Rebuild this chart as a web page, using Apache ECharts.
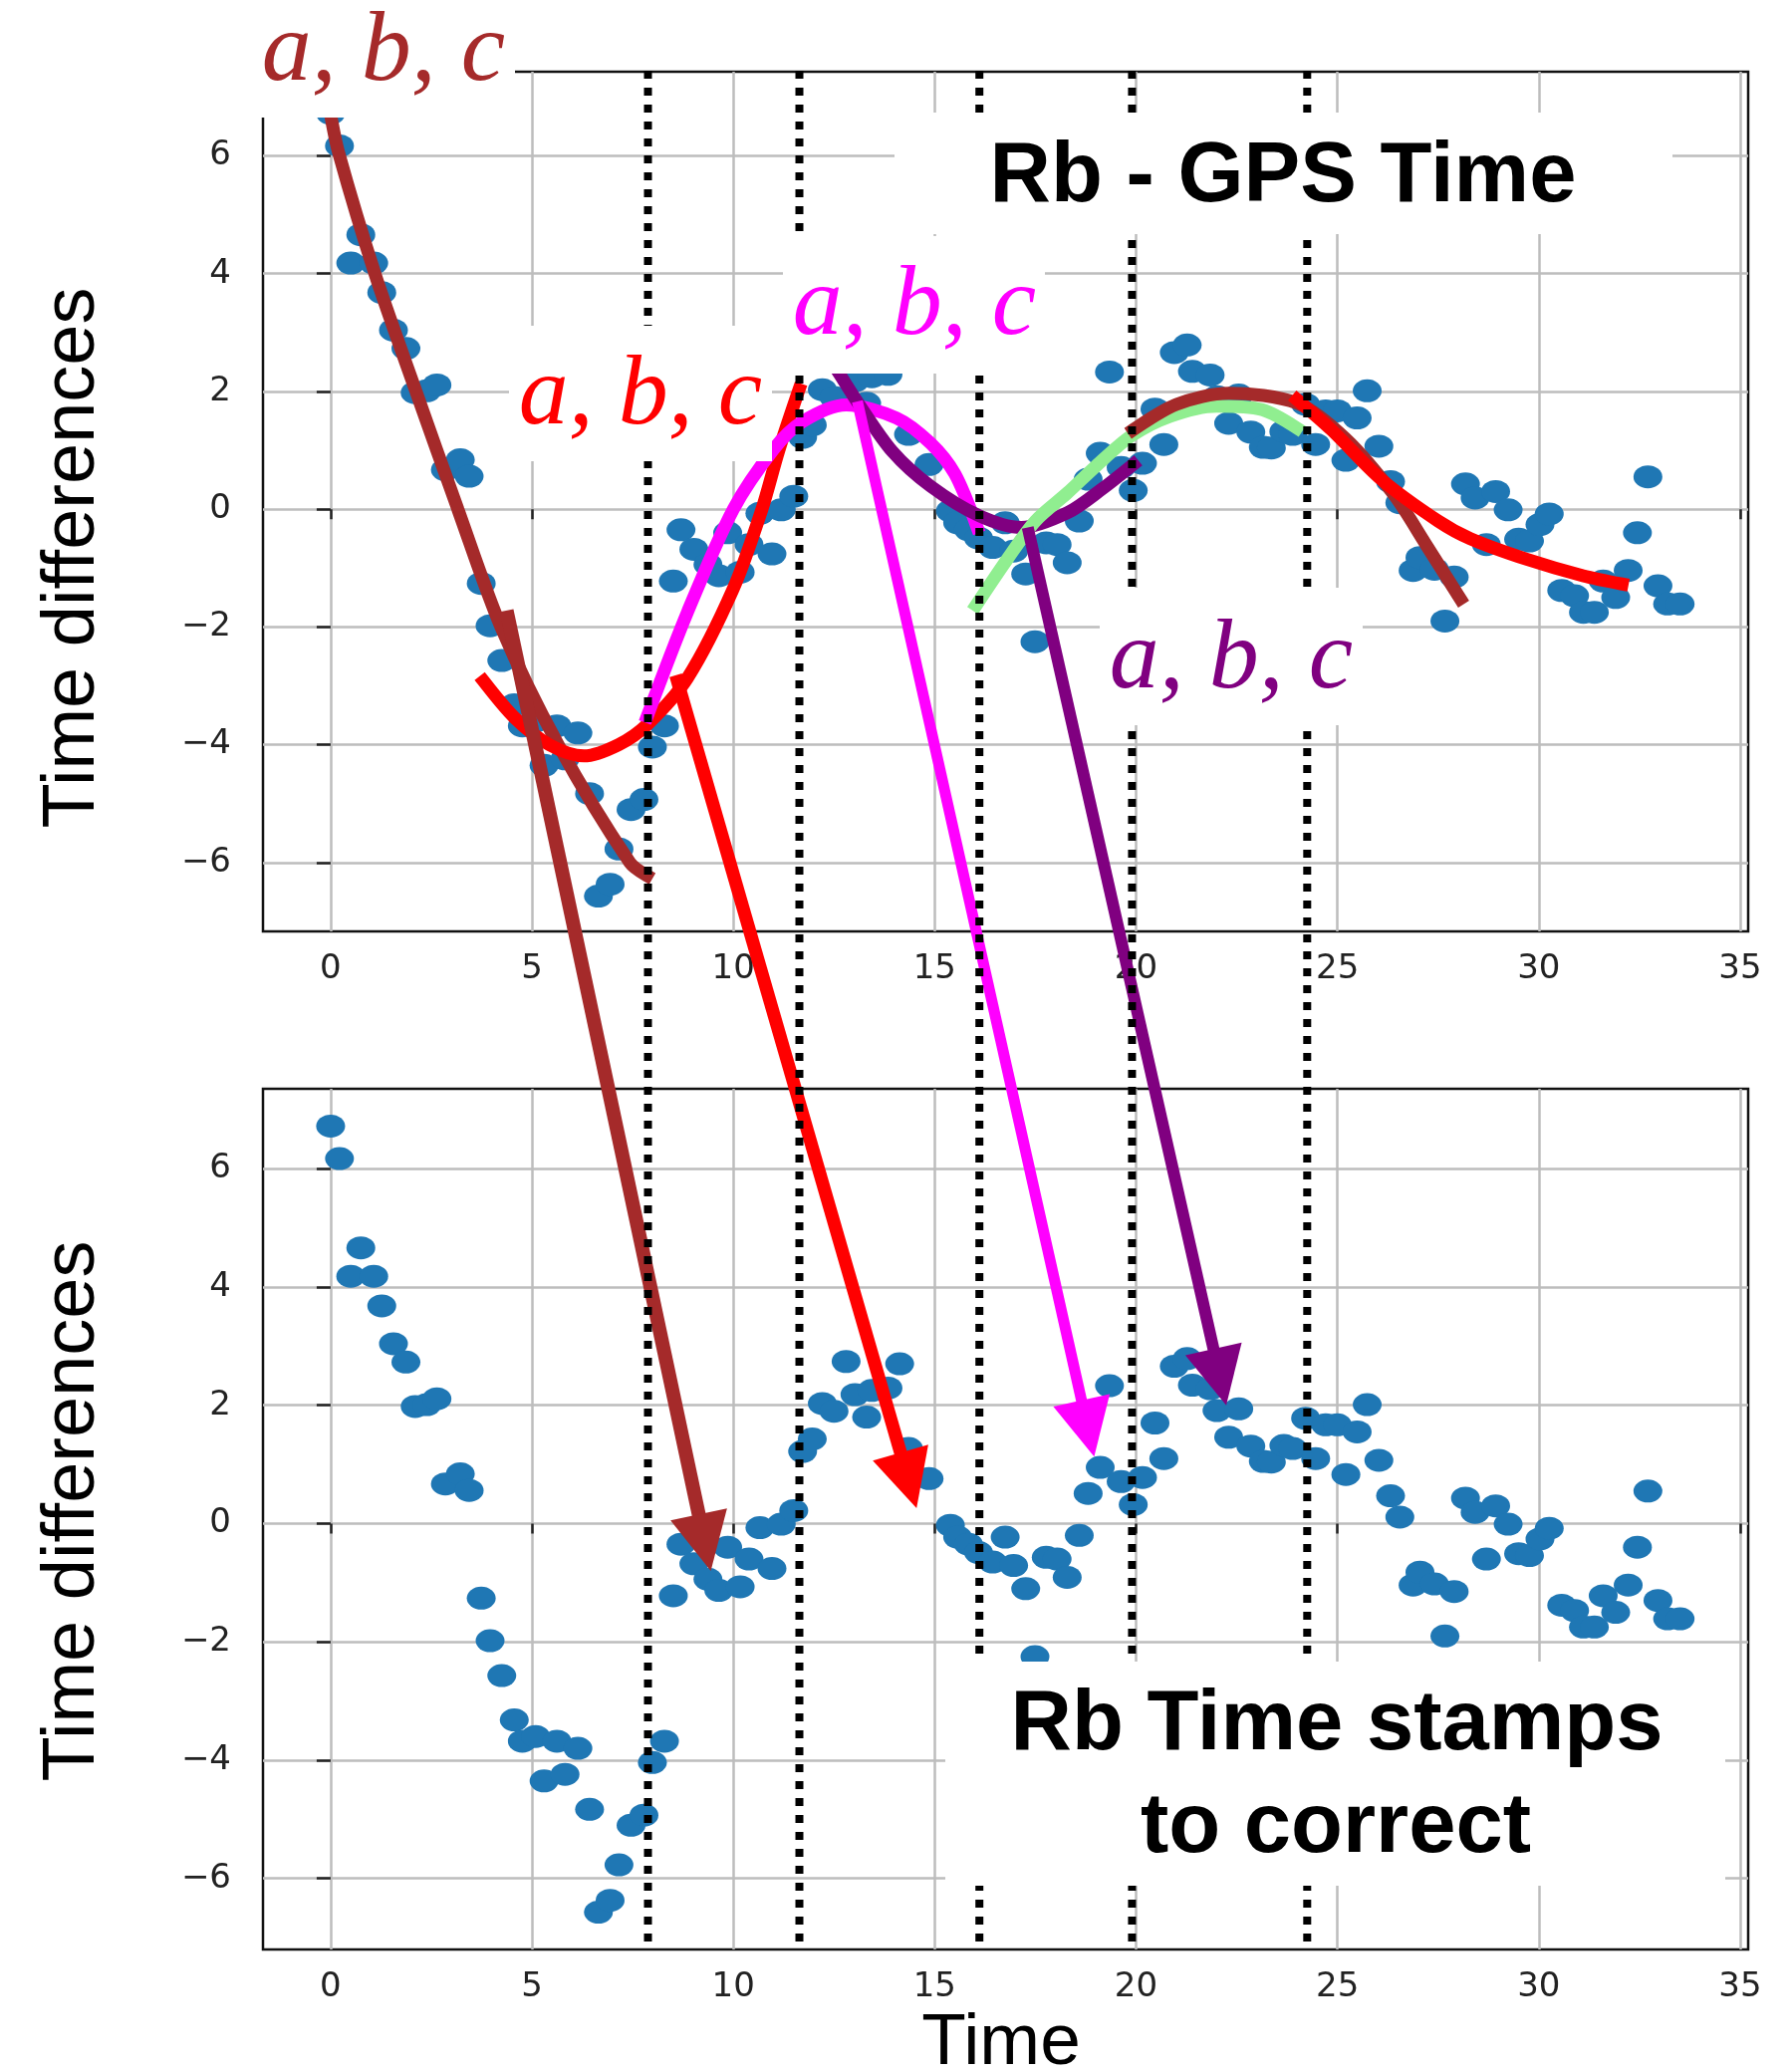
<!DOCTYPE html>
<html><head><meta charset="utf-8">
<script src="https://cdn.jsdelivr.net/npm/echarts@6/dist/echarts.min.js"></script>
<style>html,body{margin:0;padding:0;background:#fff}#c{width:1799px;height:2080px}</style>
</head><body><div id="c"></div>
<script>
// ---------- data ----------
const timeX = [0.00,0.22,0.50,0.75,1.07,1.27,1.56,1.87,2.10,2.39,
2.64,2.85,3.22,3.44,3.74,3.96,4.25,4.56,4.76,5.09,
5.30,5.62,5.82,6.14,6.43,6.65,6.94,7.16,7.46,7.78,
7.99,8.29,8.51,8.70,9.02,9.37,9.64,9.86,10.17,10.39,
10.66,10.96,11.19,11.50,11.72,11.96,12.21,12.50,12.80,13.02,
13.31,13.44,13.84,14.13,14.35,14.86,15.39,15.57,15.84,16.09,
16.44,16.75,16.96,17.26,17.49,17.77,18.04,18.29,18.59,18.81,
19.11,19.34,19.63,19.93,20.16,20.47,20.69,20.95,21.27,21.40,
21.84,22.01,22.30,22.55,22.85,23.16,23.36,23.67,23.89,24.21,
24.46,24.71,25.00,25.21,25.49,25.74,26.03,26.32,26.55,26.88,
27.05,27.41,27.67,27.90,28.18,28.42,28.70,28.93,29.24,29.50,
29.77,30.03,30.26,30.57,30.89,31.11,31.38,31.60,31.91,32.22,
32.45,32.71,32.96,33.20,33.51];
const timeDiff = [6.72,6.17,4.18,4.66,4.18,3.68,3.04,2.73,1.98,2.01,
2.11,0.67,0.84,0.56,-1.26,-1.98,-2.57,-3.32,-3.68,-3.60,
-4.35,-3.68,-4.24,-3.80,-4.83,-6.57,-6.37,-5.77,-5.10,-4.93,
-4.04,-3.68,-1.22,-0.35,-0.68,-0.94,-1.13,-0.40,-1.07,-0.60,
-0.07,-0.76,-0.01,0.22,1.22,1.43,2.03,1.90,2.74,2.18,
1.80,2.25,2.29,2.70,1.27,0.76,-0.03,-0.23,-0.35,-0.49,
-0.65,-0.23,-0.71,-1.10,-2.25,-0.57,-0.60,-0.91,-0.20,0.51,
0.95,2.33,0.71,0.32,0.78,1.70,1.10,2.66,2.79,2.34,
2.28,1.91,1.46,1.94,1.31,1.05,1.04,1.32,1.27,1.78,
1.10,1.67,1.67,0.83,1.55,2.01,1.07,0.47,0.11,-1.04,
-0.82,-1.02,-1.90,-1.15,0.43,0.19,-0.60,0.30,-0.01,-0.51,
-0.54,-0.26,-0.08,-1.38,-1.47,-1.75,-1.75,-1.22,-1.50,-1.04,
-0.40,0.55,-1.30,-1.61,-1.61];

// fitted curves (a, b, c)
const brownFitA = [[0,6.7],[0.2,6.05],[1.1,4.0],[2.12,2.0],[3.16,0.0],[4.23,-2.0],[5.65,-4.0],[7.43,-6.0],[7.85,-6.22]];
const redFitA = [[3.8,-2.92],[4.58,-3.55],[5.43,-4.0],[6.29,-4.19],[7.15,-4.0],[7.86,-3.66],[8.86,-2.87],[10.0,-1.35],[10.71,0.0],[11.13,1.0],[11.63,2.03]];
const magentaFit = [[7.86,-3.52],[8.86,-1.75],[10.0,0.0],[11.0,1.02],[11.7,1.48],[12.8,1.77],[14.05,1.55],[14.9,1.12],[15.5,0.6],[16.05,-0.3]];
const purpleFit = [[11.7,3.3],[12.45,2.5],[13.1,1.8],[13.95,0.98],[14.9,0.39],[16.1,-0.11],[17.15,-0.31],[18.3,-0.06],[19.15,0.34],[19.93,0.76]];
const greenFit = [[16.03,-1.63],[16.8,-0.85],[17.5,-0.2],[18.3,0.28],[19.0,0.73],[19.87,1.24],[20.85,1.58],[22.0,1.75],[23.13,1.69],[23.99,1.38]];
const brownFitB = [[19.93,1.35],[21.0,1.78],[22.3,1.97],[24.0,1.8],[25.2,1.2],[26.4,0.25],[27.2,-0.6],[28.05,-1.52]];
const redFitB = [[24.0,1.86],[24.85,1.35],[26.1,0.5],[27.5,-0.2],[28.3,-0.5],[29.7,-0.85],[31.1,-1.13],[32.07,-1.27]];

// segment boundaries (dotted lines) and correction arrows (top point -> bottom point)
const segmentBounds = [7.88, 11.64, 16.11, 19.9, 24.25];
const arrowList = [
  {color:'#a52a2a', from:[4.37,-1.72], to:[9.44,-0.80], w:14},
  {color:'#ff0000', from:[8.57,-2.82], to:[14.55,0.26], w:13},
  {color:'#ff00ff', from:[13.08,1.83], to:[18.96,1.13], w:11},
  {color:'#800080', from:[17.31,-0.31], to:[22.24,2.0], w:12}
];
const xTicks = [0,5,10,15,20,25,30,35];
const yTicks = [-6,-4,-2,0,2,4,6];

// ---------- chart ----------
const fmt = v => (v < 0 ? '\u2212' + Math.abs(v) : String(v));
const pts = timeX.map((x,i) => [x, timeDiff[i]]);
const X_MIN = -1.68, X_MAX = 35.2;
const TOP_Y = [-7.17, 7.43], BOT_Y = [-7.2, 7.35];

function xAxisCfg(gi){
  return {type:'value', gridIndex:gi, min:X_MIN, max:X_MAX,
    axisLine:{show:false},
    axisTick:{show:true, length:10, customValues:xTicks, lineStyle:{color:'#222', width:2.5}},
    axisLabel:{customValues:xTicks, formatter:fmt, color:'#222', fontSize:34, fontFamily:'DejaVu Sans', margin:21},
    splitLine:{show:true, lineStyle:{color:'#bdbdbd', width:2.5}}};
}
function yAxisCfg(gi, r){
  return {type:'value', gridIndex:gi, min:r[0], max:r[1],
    axisLine:{show:false},
    axisTick:{show:true, length:14, customValues:yTicks, lineStyle:{color:'#222', width:2.5}},
    axisLabel:{customValues:yTicks, formatter:fmt, color:'#222', fontSize:34, fontFamily:'DejaVu Sans', margin:32},
    splitLine:{show:true, lineStyle:{color:'#bdbdbd', width:2.5}}};
}
function fitLine(data, color, z){
  return {type:'line', xAxisIndex:0, yAxisIndex:0, data:data, smooth:0.3, showSymbol:false, symbol:'none',
    lineStyle:{color:color, width:13, cap:'square'}, z:z, silent:true};
}
const option = {
  animation:false,
  backgroundColor:'#fff',
  grid:[
    {left:264, top:72, width:1491, height:863, show:true, borderColor:'#111', borderWidth:2.5, backgroundColor:'transparent'},
    {left:264, top:1093, width:1491, height:864, show:true, borderColor:'#111', borderWidth:2.5, backgroundColor:'transparent'}
  ],
  xAxis:[xAxisCfg(0), xAxisCfg(1)],
  yAxis:[yAxisCfg(0, TOP_Y), yAxisCfg(1, BOT_Y)],
  series:[
    {type:'scatter', xAxisIndex:0, yAxisIndex:0, data:pts, symbolSize:[29,23], itemStyle:{color:'#1f77b4', opacity:1}, z:2, silent:true},
    {type:'scatter', xAxisIndex:1, yAxisIndex:1, data:pts, symbolSize:[29,23], itemStyle:{color:'#1f77b4', opacity:1}, z:2, silent:true},
    fitLine(brownFitA, '#a52a2a', 3),
    fitLine(redFitA, '#ff0000', 3),
    fitLine(magentaFit, '#ff00ff', 4),
    fitLine(purpleFit, '#800080', 4),
    fitLine(greenFit, '#90ee90', 5),
    fitLine(brownFitB, '#a52a2a', 5),
    fitLine(redFitB, '#ff0000', 6)
  ]
};
const chart = echarts.init(document.getElementById('c'), null, {renderer:'canvas'});
chart.setOption(option);

// ---------- overlays computed through the axes ----------
const g = [];
const HEAD_LEN = 58, HEAD_HALF = 29;
arrowList.forEach(a => {
  const p0 = chart.convertToPixel({gridIndex:0}, a.from);
  const p1 = chart.convertToPixel({gridIndex:1}, a.to);
  const dx = p1[0]-p0[0], dy = p1[1]-p0[1], L = Math.hypot(dx, dy);
  const ux = dx/L, uy = dy/L;
  const bx = p1[0]-ux*HEAD_LEN, by = p1[1]-uy*HEAD_LEN;
  g.push({type:'line', z:10, silent:true, shape:{x1:p0[0], y1:p0[1], x2:bx+ux*3, y2:by+uy*3},
    style:{stroke:a.color, lineWidth:a.w}});
  g.push({type:'polygon', z:10, silent:true, shape:{points:[[p1[0],p1[1]],[bx-uy*HEAD_HALF, by+ux*HEAD_HALF],[bx+uy*HEAD_HALF, by-ux*HEAD_HALF]]},
    style:{fill:a.color}});
});
segmentBounds.forEach(x => {
  const px = chart.convertToPixel({gridIndex:0}, [x, 0])[0];
  const y1 = chart.convertToPixel({gridIndex:0}, [x, TOP_Y[1]])[1] - 1;
  const y2 = chart.convertToPixel({gridIndex:1}, [x, BOT_Y[0]])[1] - 5;
  g.push({type:'line', z:20, silent:true, shape:{x1:px, y1:y1, x2:px, y2:y2},
    style:{stroke:'#000', lineWidth:8, lineDash:[8, 9]}});
});
// white label boxes
const boxes = [
  [240, 0, 277, 118],
  [511, 327, 264, 136],
  [786, 237, 263, 138],
  [898, 113, 781, 122],
  [1104, 590, 264, 138],
  [949, 1668, 783, 225]
];
boxes.forEach(b => g.push({type:'rect', z:30, silent:true, shape:{x:b[0], y:b[1], width:b[2], height:b[3]}, style:{fill:'#fff'}}));
// texts
function txt(s, x, y, font, color, rot){
  return {type:'text', z:40, silent:true, x:x, y:y, rotation:rot||0,
    style:{text:s, font:font, fill:color, textAlign:'center', textVerticalAlign:'middle'}};
}
const serif = 'italic 100px "Liberation Serif", "DejaVu Serif", serif';
g.push(txt('a, b, c', 385, 54, serif, '#a52a2a'));
g.push(txt('a, b, c', 643, 399, serif, '#ff0000'));
g.push(txt('a, b, c', 918, 309, serif, '#ff00ff'));
g.push(txt('a, b, c', 1236, 664, serif, '#800080'));
const bold = 'bold 85px "Liberation Sans", Arial, sans-serif';
g.push(txt('Rb - GPS Time', 1288, 179, bold, '#000'));
g.push(txt('Rb Time stamps', 1342, 1733, bold, '#000'));
g.push(txt('to correct', 1341, 1836, bold, '#000'));
const lab = '74px "Liberation Sans", Arial, sans-serif';
g.push(txt('Time differences', 74, 560, lab, '#000', Math.PI/2));
g.push(txt('Time differences', 74, 1517, lab, '#000', Math.PI/2));
g.push(txt('Time', 1005, 2052, '73px "Liberation Sans", Arial, sans-serif', '#000'));
chart.setOption({graphic: g});
</script></body></html>
